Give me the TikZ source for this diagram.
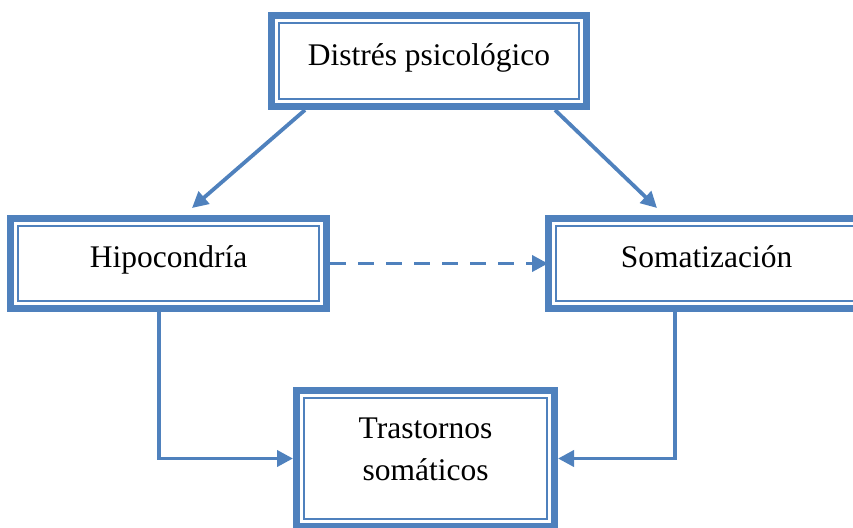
\documentclass[tikz,border=0pt]{standalone}
\usepackage{fontspec}
\setmainfont{Liberation Serif}
\usetikzlibrary{calc,arrows.meta}
\definecolor{boxblue}{HTML}{4F81BD}

\begin{document}
\begin{tikzpicture}[x=1pt,y=-1pt,
    box/.style={shape=rectangle,draw=boxblue,line width=7pt,align=center,
        font=\fontsize{31.5pt}{42pt}\selectfont,text height=18pt,text depth=10pt,
        path picture={\draw[boxblue,line width=1.8pt]
            ([shift={(7.5pt,-7.5pt)}]path picture bounding box.north west) rectangle
            ([shift={(-7.5pt,7.5pt)}]path picture bounding box.south east);}},
    arr/.style={draw=boxblue,line width=3.8pt,-{Triangle[length=16pt,width=16pt]}}]
    \useasboundingbox (0,0) rectangle (853,527);

    \node[box,minimum width=315pt,minimum height=91pt] (0) at (429,61) {Distrés psicológico};
    \node[box,minimum width=316pt,minimum height=90pt] (1) at (168.5,263.5) {Hipocondría};
    \node[box,minimum width=316pt,minimum height=90pt] (2) at (706.5,263.5) {Somatización};
    \node[box,minimum width=258pt,minimum height=136pt,text height=53pt,text depth=10pt] (3) at (425.5,458.5) {Trastornos\\somáticos};

    \path [arr] ([xshift=-124pt]0.south) -- ([xshift=23.5pt,yshift=7pt]1.north);
    \path [arr] ([xshift=126pt]0.south) -- ([xshift=-49.5pt,yshift=7pt]2.north);
    \path [arr,dash pattern=on 16pt off 12pt] (1.east) -- ([xshift=3pt]2.west);
    \path [arr] ([xshift=-9.5pt]1.south) |- (3.west);
    \path [arr] ([xshift=-31.5pt]2.south) |- (3.east);
\end{tikzpicture}
\end{document}
